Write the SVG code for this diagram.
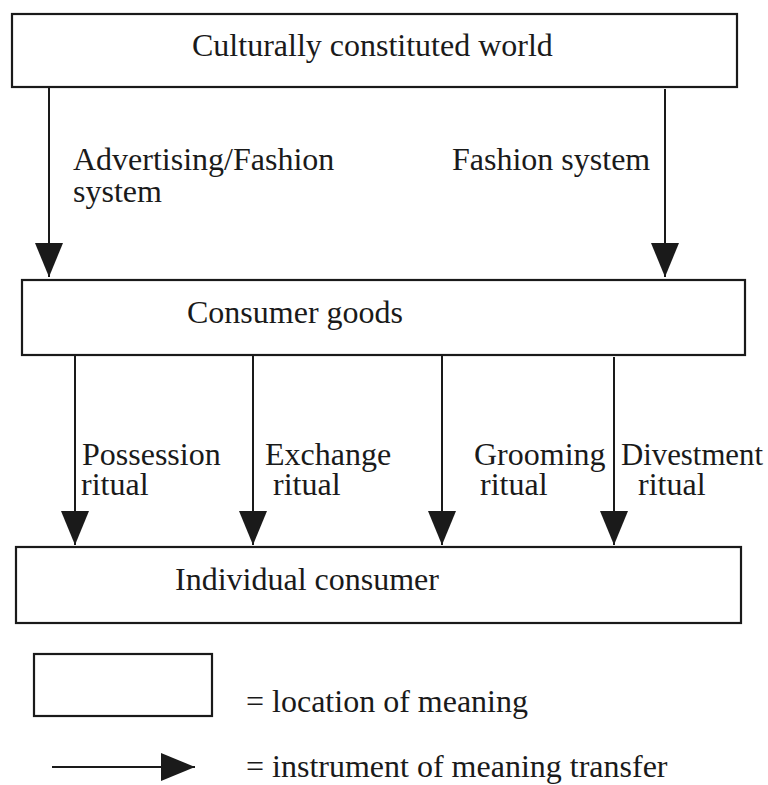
<svg xmlns="http://www.w3.org/2000/svg" width="768" height="785" viewBox="0 0 768 785">
<defs>
<style>
.box{fill:#fff;stroke:#1a1a1a;stroke-width:2.2}
.t{font-family:"Liberation Serif","Times New Roman",serif;font-size:32px;fill:#1a1a1a}
.c{stroke:#1a1a1a;stroke-width:2;fill:none}
</style>
<marker id="ah" viewBox="0 0 34 28" refX="34" refY="14" markerUnits="userSpaceOnUse" markerWidth="34" markerHeight="28" orient="auto">
<path d="M0,0 L34,14 L0,28 Z" fill="#1a1a1a"/>
</marker>
</defs>
<rect width="768" height="785" fill="#fff"/>
<g id="culture">
<rect class="box" x="12" y="14" width="725" height="73"/>
<text class="t" x="192" y="56">Culturally constituted world</text>
</g>
<g id="goods">
<rect class="box" x="22" y="280" width="723" height="75"/>
<text class="t" x="187" y="323">Consumer goods</text>
</g>
<g id="consumer">
<rect class="box" x="16" y="547" width="725" height="76"/>
<text class="t" x="175" y="590">Individual consumer</text>
</g>
<g id="connectors">
<line class="c" x1="49" y1="87" x2="49" y2="277" marker-end="url(#ah)"/>
<line class="c" x1="665" y1="89" x2="665" y2="277" marker-end="url(#ah)"/>
<line class="c" x1="75" y1="355" x2="75" y2="545" marker-end="url(#ah)"/>
<line class="c" x1="253" y1="355" x2="253" y2="545" marker-end="url(#ah)"/>
<line class="c" x1="442" y1="355" x2="442" y2="545" marker-end="url(#ah)"/>
<line class="c" x1="614" y1="357" x2="614" y2="545" marker-end="url(#ah)"/>
<text class="t" y="170"><tspan x="73">Advertising/Fashion</tspan><tspan x="73" dy="32">system</tspan></text>
<text class="t" x="452" y="170">Fashion system</text>
<text class="t" y="465"><tspan x="82">Possession</tspan><tspan x="81" dy="30">ritual</tspan></text>
<text class="t" y="465"><tspan x="265">Exchange</tspan><tspan x="273" dy="30">ritual</tspan></text>
<text class="t" y="465"><tspan x="474">Grooming</tspan><tspan x="480" dy="30">ritual</tspan></text>
<text class="t" y="465"><tspan x="621" textLength="142" lengthAdjust="spacingAndGlyphs">Divestment</tspan><tspan x="638" dy="30">ritual</tspan></text>
</g>
<g id="legend">
<rect class="box" x="34" y="654" width="178" height="62"/>
<text class="t" x="246" y="712">= location of meaning</text>
<line class="c" x1="52" y1="767" x2="195" y2="767" marker-end="url(#ah)"/>
<text class="t" x="246" y="777">= instrument of meaning transfer</text>
</g>
</svg>
